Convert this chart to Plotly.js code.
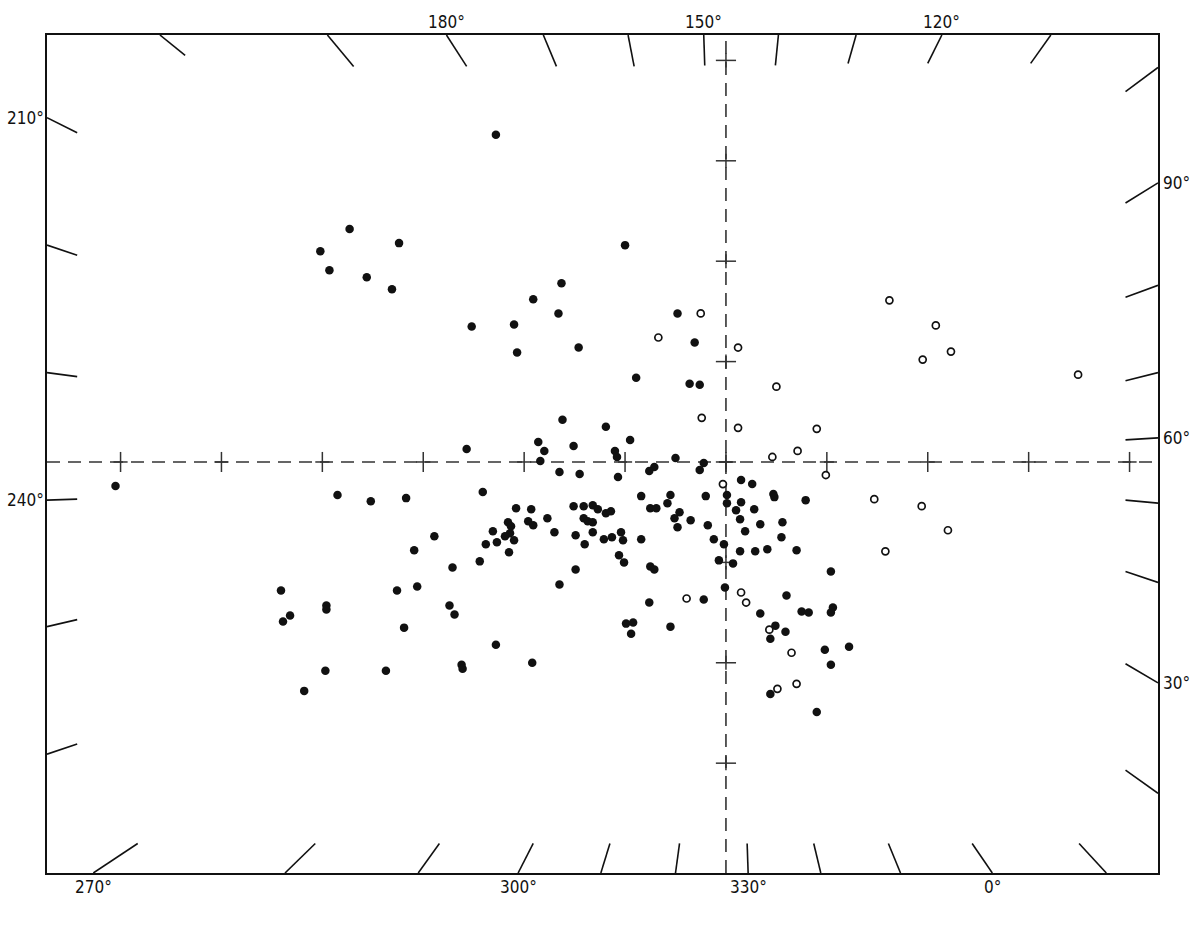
<!DOCTYPE html>
<html><head><meta charset="utf-8">
<script src="https://cdn.plot.ly/plotly-3.0.1.min.js"></script>
<style>html,body{margin:0;padding:0;background:#fff}#chart{width:1200px;height:932px}</style>
</head><body><div id="chart"></div>
<script>
// Filled points (grid units: 10 units per crosshair tick)
const filledX = [-22.8,-37.3,-32.4,-40.2,-39.3,-35.6,-33.1,-16.3,-19.1,-16.6,
 -25.2,-21.0,-20.7,-14.6,-10.0,-4.8,-3.1,-8.9,-3.6,-2.6,
 -16.2,-11.9,-15.1,-9.5,-11.0,-10.8,-5.0,-2.2,-2.6,-7.1,
 -7.6,-16.5,-14.5,-10.7,1.5,-25.7,-18.6,-18.0,-18.4,-24.1,
 -8.4,-20.8,-19.3,-15.1,-14.1,-13.2,-12.7,-11.9,-11.4,-7.5,
 -6.9,-17.7,-14.1,-13.7,-13.2,-21.6,-21.3,-19.6,-19.1,-23.1,
 -21.4,-21.9,-22.7,-21.0,-23.8,-17.0,-14.9,-13.2,-14.0,-12.1,
 -11.3,-10.4,-10.2,-8.4,-21.5,-24.4,-27.1,-10.6,-10.1,-14.9,
 -7.5,-7.1,-16.5,-27.4,-26.9,-7.6,-9.9,-9.2,-9.4,-22.8,
 -19.2,-26.2,-26.1,-60.5,-38.5,-35.2,-31.7,-28.9,-30.9,-44.1,
 -32.6,-30.6,-43.2,-43.9,-39.6,-39.6,-31.9,-39.7,-33.7,-41.8,
 2.6,-5.5,-2.0,0.1,4.7,4.8,7.9,-5.8,0.1,1.5,
 1.0,2.8,-4.6,-5.1,-3.5,1.4,5.6,-4.8,-1.8,3.4,
 1.9,5.5,-1.2,-0.2,1.4,2.9,4.1,7.0,-0.7,0.7,
 10.4,-0.1,-2.2,6.0,3.4,7.5,8.2,10.6,10.4,4.9,
 5.9,4.4,-5.5,9.8,12.2,10.4,4.4,9.0];
const filledY = [32.6,23.2,21.8,21.0,19.1,18.4,17.2,17.8,16.2,14.8,
 13.5,13.7,10.9,11.4,21.6,14.8,11.9,8.4,7.8,7.7,
 4.2,3.5,1.6,2.2,1.1,0.5,0.4,-0.1,-0.8,-0.5,
 -0.9,-1.0,-1.2,-1.5,-1.8,1.3,2.0,1.1,0.1,-3.0,
 -3.4,-4.6,-4.7,-4.4,-4.4,-4.3,-4.7,-5.1,-4.9,-4.6,
 -4.6,-5.6,-5.6,-5.9,-6.0,-6.0,-6.4,-5.9,-6.3,-6.9,
 -7.1,-7.4,-8.0,-7.8,-8.2,-7.0,-7.3,-7.0,-8.2,-7.7,
 -7.5,-7.0,-7.8,-7.7,-9.0,-9.9,-10.5,-9.3,-10.0,-10.7,
 -10.4,-10.7,-12.2,-14.3,-15.2,-14.0,-16.1,-16.0,-17.1,-18.2,
 -20.0,-20.2,-20.6,-2.4,-3.3,-3.9,-3.6,-7.4,-8.8,-12.8,
 -12.8,-12.4,-15.3,-15.9,-14.3,-14.7,-16.5,-20.8,-20.8,-22.8,
 -2.2,-3.3,-3.4,-3.3,-3.2,-3.5,-3.8,-4.1,-4.1,-4.0,
 -4.8,-4.7,-5.0,-5.6,-5.8,-5.7,-6.0,-6.5,-6.3,-6.2,
 -6.9,-7.5,-7.7,-8.2,-8.9,-8.9,-8.7,-8.8,-9.8,-10.1,
 -10.9,-12.5,-13.7,-13.3,-15.1,-14.9,-15.0,-14.5,-15.0,-16.3,
 -16.9,-17.6,-16.4,-18.7,-18.4,-20.2,-23.1,-24.9];

// Open points
const openX = [-2.5,-6.7,1.2,5.0,-2.4,1.2,9.0,7.1,4.6,9.9,-0.3,
 -3.9,1.5,2.0,4.3,6.5,5.1,7.0,
 16.2,20.8,22.3,19.5,34.9,14.7,19.4,22.0,15.8];
const openY = [14.8,12.4,11.4,7.5,4.4,3.4,3.3,1.1,0.5,-1.3,-2.2,
 -13.6,-13.0,-14.0,-16.7,-19.0,-22.6,-22.1,
 16.1,13.6,11.0,10.2,8.7,-3.7,-4.4,-6.8,-8.9];

// Crosshair tick positions
const crossTicksX = [-60,-50,-40,-30,-20,-10,0,10,20,30,40];
const crossTicksY = [-30,-20,-10,0,10,20,30,40];

// Frame graticule ticks: edge position and inner end
const topTickX    = [-56.1,-39.5,-27.7,-18.1,-9.7,-2.2,5.2,12.9,21.4,32.2];
const topTickEndX = [-53.6,-36.9,-25.7,-16.8,-9.1,-2.1,4.9,12.1,20.0,30.2];
const topTickEndY = [40.5,39.4,39.4,39.4,39.4,39.5,39.5,39.7,39.7,39.7];
const topLabels   = ['','','180°','','','150°','','','120°',''];

const bottomTickX    = [-62.7,-43.7,-30.5,-20.6,-12.4,-5.0,2.2,9.4,17.3,26.4,37.7];
const bottomTickEndX = [-58.3,-40.7,-28.4,-19.1,-11.5,-4.6,2.1,8.7,16.1,24.4,35.0];
const bottomTickEndY = [-38.0,-38.0,-38.0,-38.0,-38.0,-38.0,-38.0,-38.0,-38.0,-38.0,-38.0];
const bottomLabels   = ['270°','','','300°','','','330°','','','0°',''];

const leftTickY    = [34.3,21.6,8.9,-3.8,-16.4,-29.1];
const leftTickEndX = [-64.3,-64.3,-64.3,-64.3,-64.3,-64.3];
const leftTickEndY = [32.8,20.6,8.5,-3.7,-15.7,-28.1];
const leftLabels   = ['210°','','','240°','',''];

const rightTickY    = [39.3,27.8,17.6,8.9,2.4,-4.1,-12.0,-22.0,-33.0];
const rightTickEndX = [39.6,39.6,39.6,39.6,39.6,39.6,39.6,39.6,39.6];
const rightTickEndY = [36.9,25.8,16.4,8.1,2.2,-3.8,-10.9,-20.1,-30.7];
const rightLabels   = ['','90°','','','60°','','','30°',''];

const X_RANGE = [-67.29, 42.82];
const Y_RANGE = [-40.94, 42.53];

function segs(x0, y0, x1, y1) {
  const xs = [], ys = [];
  for (let i = 0; i < x0.length; i++) { xs.push(x0[i], x1[i], null); ys.push(y0[i], y1[i], null); }
  return {x: xs, y: ys};
}
const fill = (n, v) => Array(n).fill(v);

const topS = segs(topTickX, fill(topTickX.length, Y_RANGE[1]), topTickEndX, topTickEndY);
const botS = segs(bottomTickX, fill(bottomTickX.length, Y_RANGE[0]), bottomTickEndX, bottomTickEndY);
const leftS = segs(fill(leftTickY.length, X_RANGE[0]), leftTickY, leftTickEndX, leftTickEndY);
const rightS = segs(fill(rightTickY.length, X_RANGE[1]), rightTickY, rightTickEndX, rightTickEndY);

// crosshair plus marks
const hp = segs(crossTicksX, fill(crossTicksX.length, -1.0), crossTicksX, fill(crossTicksX.length, 1.0));
const hp2 = segs(crossTicksX.map(v => v - 0.7), fill(crossTicksX.length, 0), crossTicksX.map(v => v + 0.7), fill(crossTicksX.length, 0));
const vp = segs(fill(crossTicksY.length, -1.0), crossTicksY, fill(crossTicksY.length, 1.0), crossTicksY);
const vp2 = segs(fill(crossTicksY.length, 0), crossTicksY.map(v => v - 0.7), fill(crossTicksY.length, 0), crossTicksY.map(v => v + 0.7));

const ink = '#111';
const tickLine = {color: ink, width: 1.6};
const traces = [
  {x: X_RANGE, y: [0, 0], mode: 'lines', line: {color: '#333', width: 1.6, dash: '13px,8px'}, hoverinfo: 'skip'},
  {x: [0, 0], y: Y_RANGE, mode: 'lines', line: {color: '#333', width: 1.6, dash: '13px,8px'}, hoverinfo: 'skip'},
  {x: hp.x.concat(hp2.x, vp.x, vp2.x), y: hp.y.concat(hp2.y, vp.y, vp2.y), mode: 'lines', line: {color: '#333', width: 1.5}, hoverinfo: 'skip'},
  {x: topS.x.concat(botS.x, leftS.x, rightS.x), y: topS.y.concat(botS.y, leftS.y, rightS.y), mode: 'lines', line: tickLine, hoverinfo: 'skip', cliponaxis: false},
  {x: filledX, y: filledY, mode: 'markers', marker: {size: 8.5, color: ink, line: {width: 0}}},
  {x: openX, y: openY, mode: 'markers', marker: {size: 7, color: '#fff', line: {width: 1.7, color: ink}}}
];

const font = {family: 'DejaVu Sans Condensed, DejaVu Sans, Liberation Sans, sans-serif', size: 17, color: '#111'};
const ann = [];
topLabels.forEach((t, i) => { if (t) ann.push({x: topTickX[i], y: Y_RANGE[1], text: t, showarrow: false, xanchor: 'center', yanchor: 'bottom', yshift: 1, font}); });
bottomLabels.forEach((t, i) => { if (t) ann.push({x: bottomTickX[i], y: Y_RANGE[0], text: t, showarrow: false, xanchor: 'center', yanchor: 'top', yshift: -2, font}); });
leftLabels.forEach((t, i) => { if (t) ann.push({x: X_RANGE[0], y: leftTickY[i], text: t, showarrow: false, xanchor: 'right', yanchor: 'middle', xshift: -1, font}); });
rightLabels.forEach((t, i) => { if (t) ann.push({x: X_RANGE[1], y: rightTickY[i], text: t, showarrow: false, xanchor: 'left', yanchor: 'middle', xshift: 3, font}); });

const axis = {showgrid: false, zeroline: false, showticklabels: false, ticks: '', showline: true, mirror: true, linecolor: ink, linewidth: 2, fixedrange: true};
const layout = {
  width: 1200, height: 932,
  margin: {l: 47, r: 42, t: 35, b: 59, pad: 0},
  paper_bgcolor: '#fff', plot_bgcolor: '#fff',
  showlegend: false,
  xaxis: Object.assign({range: X_RANGE}, axis),
  yaxis: Object.assign({range: Y_RANGE}, axis),
  annotations: ann
};
Plotly.newPlot('chart', traces, layout, {staticPlot: true, displayModeBar: false});
</script></body></html>
